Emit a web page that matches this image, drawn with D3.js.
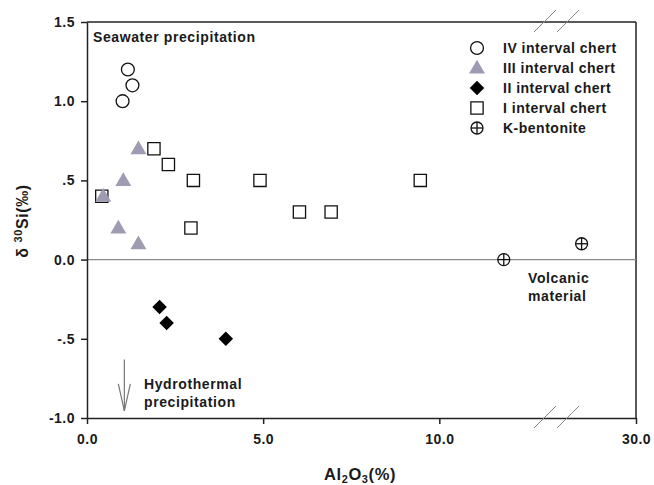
<!DOCTYPE html>
<html>
<head>
<meta charset="utf-8">
<script src="https://cdn.jsdelivr.net/npm/d3@7"></script>
<style>
  body { margin: 0; background: #fff; }
  text { font-family: "Liberation Sans", Arial, sans-serif; font-weight: bold; fill: #1a1a1a; }
</style>
</head>
<body>
<div id="chart"></div>
<script>
// data: [Al2O3 %, d30Si permil]
let chert4 = [[1.16, 1.2], [1.29, 1.1], [1.01, 1.0]];
let chert3 = [[1.46, 0.7], [1.03, 0.5], [0.46, 0.4], [0.89, 0.2], [1.46, 0.1]];
let chert2 = [[2.06, -0.3], [2.26, -0.4], [3.94, -0.5]];
let chert1 = [[1.9, 0.7], [2.31, 0.6], [3.02, 0.5], [4.91, 0.5], [0.42, 0.4], [2.95, 0.2], [6.03, 0.3], [6.93, 0.3], [9.46, 0.5]];
let bentonite = [[11.83, 0.0], [28.4, 0.1]];

let xTicks = [0, 5, 10, 30];
let xTickLabels = ['0.0', '5.0', '10.0', '30.0'];
let yTicks = [-1, -0.5, 0, 0.5, 1, 1.5];
let yTickLabels = ['-1.0', '-.5', '0.0', '.5', '1.0', '1.5'];
let legendNames = ['IV interval chert', 'III interval chert', 'II interval chert', 'I interval chert', 'K-bentonite'];

// svg setup
let svgWidth = 654;
let svgHeight = 485;
let margin = { top: 22, right: 18, bottom: 67, left: 87 };
let width = svgWidth - margin.left - margin.right;
let height = svgHeight - margin.top - margin.bottom;

let svg = d3.select('#chart').append('svg')
    .attr('width', svgWidth).attr('height', svgHeight);
let g = svg.append('g').attr('transform', `translate(${margin.left}, ${margin.top})`);

// broken x axis: 0-13 then 28-30
let xScale = d3.scaleLinear()
    .domain([0, 13, 28, 30])
    .range([0, 458, 481, width]);
let yScale = d3.scaleLinear().domain([-1, 1.5]).range([height, 0]);

// frame
g.append('line').attr('x1', 0).attr('x2', width).attr('y1', 0).attr('y2', 0)
    .attr('stroke', '#222').attr('stroke-width', 1.5);
g.append('line').attr('x1', width).attr('x2', width).attr('y1', 0).attr('y2', height)
    .attr('stroke', '#222').attr('stroke-width', 1.5);

// zero line
g.append('line').attr('x1', 0).attr('x2', width)
    .attr('y1', yScale(0)).attr('y2', yScale(0))
    .attr('stroke', '#8a8a8a').attr('stroke-width', 1.2);

// axes
let bottomAxis = d3.axisBottom(xScale).tickValues(xTicks)
    .tickFormat((d, i) => xTickLabels[i]).tickSize(6).tickSizeOuter(0).tickPadding(10);
let leftAxis = d3.axisLeft(yScale).tickValues(yTicks)
    .tickFormat((d, i) => yTickLabels[i]).tickSize(6).tickSizeOuter(0).tickPadding(6);

let xAxisG = g.append('g').attr('transform', `translate(0, ${height})`).call(bottomAxis);
let yAxisG = g.append('g').call(leftAxis);
[xAxisG, yAxisG].forEach(a => {
    a.select('.domain').attr('stroke', '#222').attr('stroke-width', 1.5);
    a.selectAll('.tick line').attr('stroke', '#222').attr('stroke-width', 1.5);
    a.selectAll('.tick text').attr('font-size', '14px').style('font-family', '"Liberation Sans", Arial, sans-serif')
        .style('font-weight', 'bold').style('letter-spacing', '0.5px').attr('fill', '#1a1a1a');
});

// break marks
let breakX = [447, 470];
[-1, height - 1].forEach(yy => {
    breakX.forEach(bx => {
        g.append('line')
            .attr('x1', bx).attr('y1', yy + 11)
            .attr('x2', bx + 22).attr('y2', yy - 11)
            .attr('stroke', '#888').attr('stroke-width', 1);
    });
});

// marker drawers
let symCircle = d3.symbol().type(d3.symbolCircle).size(130);
let symTri = d3.symbol().type(d3.symbolTriangle).size(110);
let symDiamond = d3.symbol().type(d3.symbolSquare).size(105);
let symSquare = d3.symbol().type(d3.symbolSquare).size(150);

function drawMarker(sel, kind) {
    if (kind === 'circle') {
        sel.append('path').attr('d', symCircle()).attr('fill', 'white').attr('stroke', '#111').attr('stroke-width', 1.3);
    } else if (kind === 'tri') {
        sel.append('path').attr('d', symTri()).attr('fill', '#9e9bb3').attr('transform', 'translate(0,1)');
    } else if (kind === 'diamond') {
        sel.append('path').attr('d', symDiamond()).attr('fill', '#000').attr('transform', 'rotate(45)');
    } else if (kind === 'square') {
        sel.append('path').attr('d', symSquare()).attr('fill', 'white').attr('stroke', '#111').attr('stroke-width', 1.3);
    } else {
        sel.append('circle').attr('r', 6).attr('fill', 'white').attr('stroke', '#111').attr('stroke-width', 1.3);
        sel.append('line').attr('x1', -6).attr('x2', 6).attr('stroke', '#111').attr('stroke-width', 1.3);
        sel.append('line').attr('y1', -6).attr('y2', 6).attr('stroke', '#111').attr('stroke-width', 1.3);
    }
}

let series = [
    { data: chert1, kind: 'square' },
    { data: chert3, kind: 'tri' },
    { data: chert4, kind: 'circle' },
    { data: chert2, kind: 'diamond' },
    { data: bentonite, kind: 'cross' }
];

series.forEach(s => {
    g.selectAll(null).data(s.data).enter().append('g')
        .attr('transform', d => `translate(${xScale(d[0])}, ${yScale(d[1])})`)
        .each(function() { drawMarker(d3.select(this), s.kind); });
});

// legend
let legendKinds = ['circle', 'tri', 'diamond', 'square', 'cross'];
let legend = svg.append('g').attr('transform', 'translate(477, 48)');
legendNames.forEach((name, i) => {
    let row = legend.append('g').attr('transform', `translate(0, ${i * 20})`);
    drawMarker(row.append('g'), legendKinds[i]);
    row.append('text').attr('x', 26).attr('y', 5).attr('font-size', '14px')
        .style('letter-spacing', '0.5px').text(name);
});

// annotations
function note(x, y, str) {
    svg.append('text').attr('x', x).attr('y', y).attr('font-size', '14px')
        .style('letter-spacing', '0.6px').text(str);
}
note(93, 42, 'Seawater precipitation');
note(144, 389, 'Hydrothermal');
note(144, 407, 'precipitation');
note(528, 283, 'Volcanic');
note(528, 301, 'material');

// hydrothermal arrow
let arrowX = xScale(1.06);
let arrowTop = yScale(-0.63), arrowTip = yScale(-0.955);
g.append('line').attr('x1', arrowX).attr('x2', arrowX).attr('y1', arrowTop).attr('y2', arrowTip)
    .attr('stroke', '#777').attr('stroke-width', 1.2);
g.append('path')
    .attr('d', `M${arrowX - 6},${arrowTip - 27} L${arrowX},${arrowTip} L${arrowX + 6},${arrowTip - 27}`)
    .attr('fill', 'none').attr('stroke', '#777').attr('stroke-width', 1.2);

// axis titles
let yLabel = svg.append('text')
    .attr('transform', 'translate(28, 221) rotate(-90)')
    .attr('text-anchor', 'middle').attr('font-size', '16px').style('letter-spacing', '0.6px');
yLabel.append('tspan').text('δ ');
yLabel.append('tspan').attr('font-size', '11px').attr('dy', -6).text('30');
yLabel.append('tspan').attr('dy', 6).text('Si(‰)');

let xLabel = svg.append('text').attr('x', 360).attr('y', 480)
    .attr('text-anchor', 'middle').attr('font-size', '16.5px').style('letter-spacing', '0.6px');
xLabel.append('tspan').text('Al');
xLabel.append('tspan').attr('font-size', '11px').attr('dy', 3).text('2');
xLabel.append('tspan').attr('dy', -3).text('O');
xLabel.append('tspan').attr('font-size', '11px').attr('dy', 3).text('3');
xLabel.append('tspan').attr('dy', -3).text('(%)');
</script>
</body>
</html>
